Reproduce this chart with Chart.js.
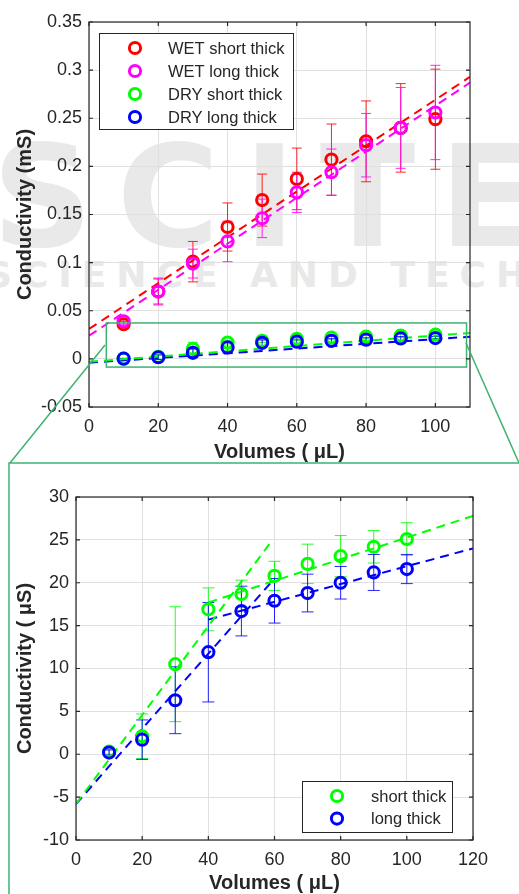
<!DOCTYPE html>
<html>
<head>
<meta charset="utf-8">
<script src="https://cdn.jsdelivr.net/npm/chart.js@4.4.1/dist/chart.umd.min.js"></script>
<style>
  html, body { margin: 0; padding: 0; background: #fff; }
  body { width: 519px; height: 894px; position: relative; overflow: hidden; }
  #topWrap { position: absolute; left: 0; top: 0; width: 519px; height: 464px; }
  #bottomWrap { position: absolute; left: 0; top: 463px; width: 519px; height: 440px; }
  #overlay { position: absolute; left: 0; top: 0; pointer-events: none; }
  .wm { position: absolute; color: #e9e9e9; font-family: "DejaVu Sans", sans-serif; font-weight: bold; white-space: nowrap; line-height: 1; }
  #wm1 { left: -8px; top: 128px; font-size: 140px; letter-spacing: 24px; }
  #wm2 { left: -14px; top: 257px; font-size: 36px; letter-spacing: 10px; }
</style>
</head>
<body>
<div class="wm" id="wm1">SCITE</div>
<div class="wm" id="wm2">SCIENCE AND TECHNOLOGY</div>
<div id="topWrap"><canvas id="topChart" width="519" height="464"></canvas></div>
<div id="bottomWrap"><canvas id="bottomChart" width="519" height="440"></canvas></div>
<svg id="overlay" width="519" height="894">
  <line x1="105" y1="345" x2="10" y2="463" stroke="#3cb371" stroke-width="1.5"/>
  <line x1="466" y1="343" x2="519" y2="463" stroke="#3cb371" stroke-width="1.5"/>
  <rect x="9" y="463" width="530" height="450" fill="none" stroke="#3cb371" stroke-width="1.5"/>
</svg>
<script>
// values
const volumes = [10, 20, 30, 40, 50, 60, 70, 80, 90, 100];

// top panel (mS)
const wetShort = [0.036, 0.070, 0.101, 0.137, 0.165, 0.187, 0.207, 0.226, 0.240, 0.249];
const wetShortErr = [0.003, 0.013, 0.021, 0.025, 0.027, 0.032, 0.037, 0.042, 0.046, 0.052];
const wetLong = [0.039, 0.070, 0.099, 0.122, 0.146, 0.173, 0.194, 0.222, 0.240, 0.256];
const wetLongErr = [0.003, 0.014, 0.015, 0.021, 0.020, 0.021, 0.024, 0.033, 0.042, 0.049];

// bottom panel (uS)
const dryShort = [0.3, 2.1, 10.5, 16.9, 18.7, 20.8, 22.2, 23.1, 24.2, 25.1];
const dryShortErr = [0.3, 2.6, 6.7, 2.5, 1.6, 1.7, 2.3, 2.4, 1.9, 1.9];
const dryLong = [0.2, 1.7, 6.3, 11.9, 16.7, 17.9, 18.8, 20.0, 21.2, 21.6];
const dryLongErr = [0.3, 2.3, 3.9, 5.8, 2.9, 2.6, 2.2, 1.9, 2.1, 1.7];

// dashed fit lines, end points
const fitXTop = [0, 110];
const wetShortFit = [0.031, 0.293];
const wetLongFit = [0.024, 0.287];
const dryShortFitTop = [-0.003, 0.027];
const dryLongFitTop = [-0.004, 0.023];

const shortSteepX = [0, 59];
const shortSteep = [-5.8, 24.8];
const longSteepX = [0, 60];
const longSteep = [-5.8, 20.5];
const flatX = [40, 120];
const shortFlat = [17.7, 27.8];
const longFlat = [15.7, 24.0];

// zoomed region marked on the top panel
const zoomBoxX = [5, 109];
const zoomBoxY = [-0.0085, 0.0373];

const topXTicks = [0, 20, 40, 60, 80, 100];
const topYTicks = [-0.05, 0, 0.05, 0.1, 0.15, 0.2, 0.25, 0.3, 0.35];
const bottomXTicks = [0, 20, 40, 60, 80, 100, 120];
const bottomYTicks = [-10, -5, 0, 5, 10, 15, 20, 25, 30];

const fontFamily = '"Liberation Sans", Arial, Helvetica, sans-serif';
const axisColor = '#262626';
const gridColor = '#e0e0e0';
const RED = '#ff0000', MAGENTA = '#ff00ff', GREEN = '#00ff00', BLUE = '#0000ff';
const MARK_R = 5.6, MARK_W = 3;

const pts = (xs, ys, k = 1) => xs.map((x, i) => ({ x: x, y: ys[i] * k }));

function markers(label, ys, errs, color, order, k = 1) {
    return {
        label: label,
        data: pts(volumes, ys, k),
        errorBars: errs.map(e => e * k),
        inLegend: true,
        borderColor: color,
        backgroundColor: 'rgba(0,0,0,0)',
        pointRadius: MARK_R,
        pointHoverRadius: MARK_R,
        pointBorderWidth: MARK_W,
        showLine: false,
        order: order
    };
}

function fit(xs, ys, color, k = 1) {
    return {
        data: pts(xs, ys, k),
        borderColor: color,
        borderWidth: 2,
        borderDash: [9, 6],
        pointRadius: 0,
        showLine: true,
        order: 10
    };
}

// error bars, drawn under the markers
const errorBars = {
    id: 'errorBars',
    beforeDatasetsDraw(chart, args, opts) {
        const { ctx, scales: { x, y } } = chart;
        ctx.save();
        ctx.lineWidth = 1;
        ctx.globalAlpha = 0.85;
        chart.data.datasets.forEach(ds => {
            if (!ds.errorBars) return;
            ctx.strokeStyle = ds.borderColor;
            ctx.beginPath();
            ds.data.forEach((p, i) => {
                const px = x.getPixelForValue(p.x);
                const lo = y.getPixelForValue(p.y - ds.errorBars[i]);
                const hi = y.getPixelForValue(p.y + ds.errorBars[i]);
                ctx.moveTo(px, lo); ctx.lineTo(px, hi);
                ctx.moveTo(px - opts.cap, lo); ctx.lineTo(px + opts.cap, lo);
                ctx.moveTo(px - opts.cap, hi); ctx.lineTo(px + opts.cap, hi);
            });
            ctx.stroke();
        });
        ctx.restore();
    }
};

// box around the axes with inward tick marks
const frame = {
    id: 'frame',
    afterDatasetsDraw(chart) {
        const { ctx, chartArea: a, scales: { x, y } } = chart;
        ctx.save();
        ctx.strokeStyle = axisColor;
        ctx.lineWidth = 1.2;
        ctx.strokeRect(a.left, a.top, a.right - a.left, a.bottom - a.top);
        ctx.beginPath();
        x.ticks.forEach(t => {
            const px = x.getPixelForValue(t.value);
            ctx.moveTo(px, a.bottom); ctx.lineTo(px, a.bottom - 4);
            ctx.moveTo(px, a.top); ctx.lineTo(px, a.top + 4);
        });
        y.ticks.forEach(t => {
            const py = y.getPixelForValue(t.value);
            ctx.moveTo(a.left, py); ctx.lineTo(a.left + 4, py);
            ctx.moveTo(a.right, py); ctx.lineTo(a.right - 4, py);
        });
        ctx.stroke();
        ctx.restore();
    }
};

const zoomBox = {
    id: 'zoomBox',
    afterDatasetsDraw(chart, args, opts) {
        if (!opts.show) return;
        const { ctx, scales: { x, y } } = chart;
        const x0 = x.getPixelForValue(zoomBoxX[0]), x1 = x.getPixelForValue(zoomBoxX[1]);
        const y0 = y.getPixelForValue(zoomBoxY[1]), y1 = y.getPixelForValue(zoomBoxY[0]);
        ctx.save();
        ctx.strokeStyle = '#3cb371';
        ctx.lineWidth = 1.5;
        ctx.strokeRect(x0, y0, x1 - x0, y1 - y0);
        ctx.restore();
    }
};

// legend box sitting inside the axes
const boxLegend = {
    id: 'boxLegend',
    afterDraw(chart, args, o) {
        const { ctx } = chart;
        const items = chart.data.datasets.filter(d => d.inLegend);
        items.sort((a, b) => b.order - a.order);
        ctx.save();
        ctx.fillStyle = '#fff';
        ctx.fillRect(o.x, o.y, o.w, o.h);
        ctx.strokeStyle = axisColor;
        ctx.lineWidth = 1;
        ctx.strokeRect(o.x + 0.5, o.y + 0.5, o.w, o.h);
        ctx.font = '16.5px ' + fontFamily;
        ctx.textBaseline = 'middle';
        items.forEach((d, i) => {
            const cy = o.y + o.first + i * o.gap;
            ctx.beginPath();
            ctx.arc(o.x + o.markerX, cy, MARK_R, 0, Math.PI * 2);
            ctx.lineWidth = MARK_W;
            ctx.strokeStyle = d.borderColor;
            ctx.stroke();
            ctx.fillStyle = axisColor;
            ctx.fillText(d.legendText || d.label, o.x + o.textX, cy + 1);
        });
        ctx.restore();
    }
};

function axis(min, max, tickList, title, fitSize, horizontal, titlePad) {
    return {
        type: 'linear',
        min: min,
        max: max,
        afterBuildTicks: s => { s.ticks = tickList.map(v => ({ value: v })); },
        afterFit: s => { if (horizontal) s.height = fitSize; else s.width = fitSize; },
        grid: { color: gridColor, lineWidth: 1, drawTicks: false },
        border: { display: false },
        ticks: {
            color: axisColor,
            padding: horizontal ? 9 : 7,
            maxRotation: 0,
            autoSkip: false,
            font: { family: fontFamily, size: 18 },
            callback: v => String(v)
        },
        title: {
            display: true,
            text: title,
            color: axisColor,
            font: { family: fontFamily, size: 20, weight: 'bold' },
            padding: horizontal ? { top: 0, bottom: titlePad } : { top: titlePad, bottom: 0 }
        }
    };
}

Chart.defaults.font.family = fontFamily;

new Chart(document.getElementById('topChart'), {
    type: 'scatter',
    data: {
        datasets: [
            markers('WET short thick', wetShort, wetShortErr, RED, 4),
            markers('WET long thick', wetLong, wetLongErr, MAGENTA, 3),
            markers('DRY short thick', dryShort, dryShortErr, GREEN, 2, 0.001),
            markers('DRY long thick', dryLong, dryLongErr, BLUE, 1, 0.001),
            fit(fitXTop, wetShortFit, RED),
            fit(fitXTop, wetLongFit, MAGENTA),
            fit(fitXTop, dryShortFitTop, GREEN),
            fit(fitXTop, dryLongFitTop, BLUE)
        ]
    },
    options: {
        responsive: false,
        animation: false,
        layout: { padding: { top: 22, right: 49, left: 0, bottom: 0 } },
        scales: {
            x: axis(0, 110, topXTicks, 'Volumes ( \u03bcL)', 57, true, 0),
            y: axis(-0.05, 0.35, topYTicks, 'Conductivity (mS)', 89, false, 13)
        },
        plugins: {
            legend: { display: false },
            tooltip: { enabled: false },
            errorBars: { cap: 5 },
            zoomBox: { show: true },
            boxLegend: { x: 99, y: 33, w: 194, h: 96, first: 15, gap: 23, markerX: 36, textX: 69 }
        }
    },
    plugins: [errorBars, zoomBox, frame, boxLegend]
});

const shortThick = markers('DRY short thick', dryShort, dryShortErr, GREEN, 2);
shortThick.legendText = 'short thick';
const longThick = markers('DRY long thick', dryLong, dryLongErr, BLUE, 1);
longThick.legendText = 'long thick';

new Chart(document.getElementById('bottomChart'), {
    type: 'scatter',
    data: {
        datasets: [
            shortThick,
            longThick,
            fit(shortSteepX, shortSteep, GREEN),
            fit(flatX, shortFlat, GREEN),
            fit(longSteepX, longSteep, BLUE),
            fit(flatX, longFlat, BLUE)
        ]
    },
    options: {
        responsive: false,
        animation: false,
        layout: { padding: { top: 34, right: 46, left: 0, bottom: 0 } },
        scales: {
            x: axis(0, 120, bottomXTicks, 'Volumes ( \u03bcL)', 63, true, 8),
            y: axis(-10, 30, bottomYTicks, 'Conductivity ( \u03bcS)', 76, false, 13)
        },
        plugins: {
            legend: { display: false },
            tooltip: { enabled: false },
            errorBars: { cap: 6 },
            zoomBox: { show: false },
            boxLegend: { x: 302, y: 318, w: 150, h: 51, first: 15, gap: 22.6, markerX: 35, textX: 69 }
        }
    },
    plugins: [errorBars, zoomBox, frame, boxLegend]
});
</script>
</body>
</html>
